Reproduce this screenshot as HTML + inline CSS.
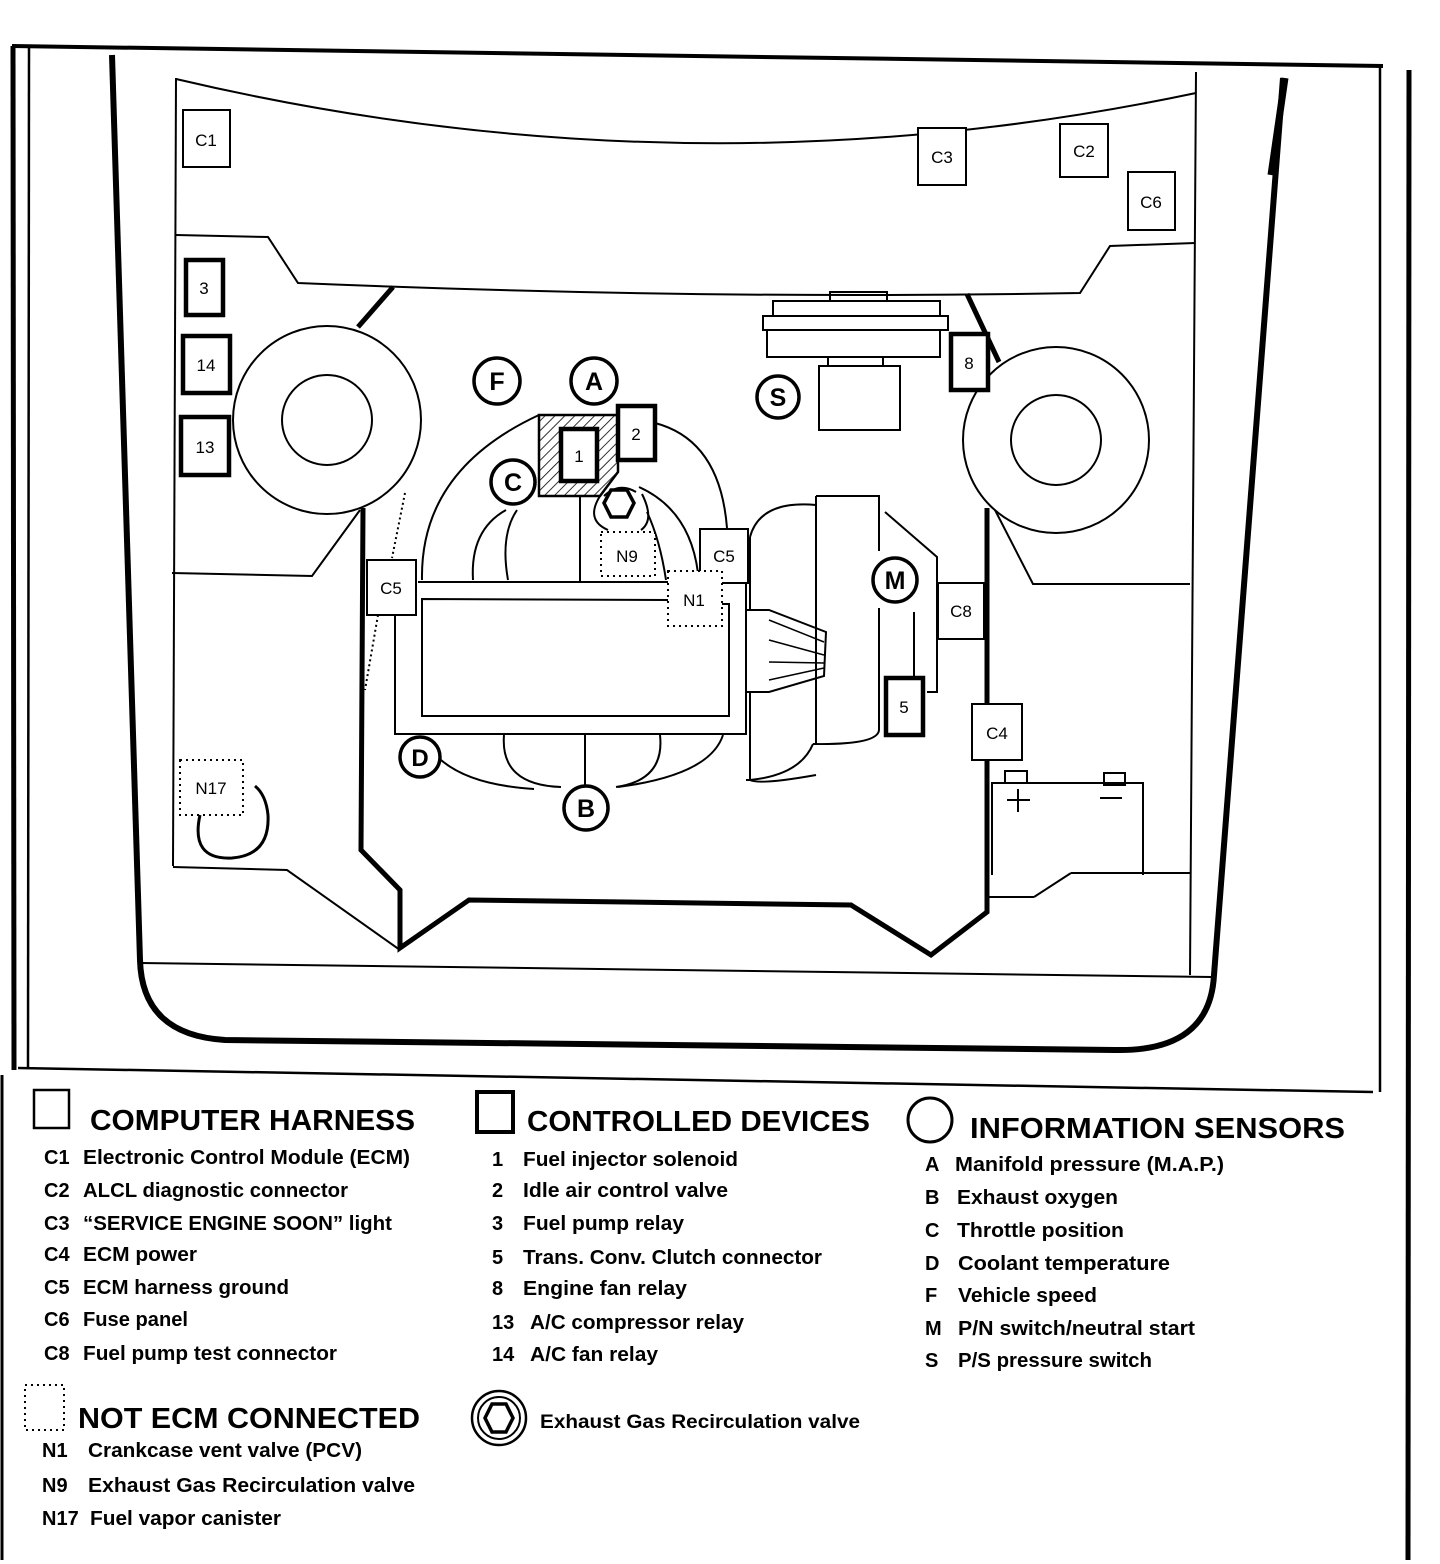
<!DOCTYPE html>
<html><head><meta charset="utf-8"><style>
html,body{margin:0;padding:0;background:#fff}
svg{display:block}
text{font-family:"Liberation Sans",sans-serif;fill:#000}
.l{font-size:20px;font-weight:bold}
.h{font-size:29px;font-weight:bold}
.s{font-size:17px}
</style></head><body>
<svg width="1440" height="1564" viewBox="0 0 1440 1564" xmlns="http://www.w3.org/2000/svg" fill="none" stroke="#000" stroke-width="2">
<!-- frame -->
<path d="M12 46 L1383 66" stroke-width="4"/>
<line x1="13" y1="46" x2="14" y2="1070" stroke-width="5"/>
<line x1="29" y1="48" x2="28" y2="1068" stroke-width="2.5"/>
<path d="M18 1068 L1373 1092" stroke-width="2.5"/>
<line x1="1380" y1="66" x2="1380" y2="1092" stroke-width="2.5"/>
<line x1="1409" y1="70" x2="1408" y2="1560" stroke-width="5"/>
<line x1="2" y1="1075" x2="2" y2="1560" stroke-width="3"/>
<!-- car body thick outline -->
<path d="M112 55 L140 960 Q142 1035 225 1040 L1115 1050 Q1210 1052 1214 975 L1283 78" stroke-width="6"/>
<line x1="1285" y1="78" x2="1271" y2="175" stroke-width="7"/>
<!-- inner panel lines -->
<line x1="176" y1="78" x2="173" y2="866"/>
<line x1="1196" y1="72" x2="1190" y2="975"/>
<path d="M176 79 Q690 200 1196 93"/>
<path d="M176 235 L268 237 L298 283 Q700 300 1080 293 L1110 246 L1195 243"/>
<line x1="141" y1="963" x2="1212" y2="977"/>
<!-- lower left/right -->
<path d="M173 867 L287 870 L400 950"/>
<path d="M1071 873 L1190 873"/>
<!-- thick engine bay line -->
<path d="M393 287 L358 327" stroke-width="5"/>
<path d="M363 508 L361 850 L400 890 L400 948 L469 900 L851 905 L931 955 L987 912 L987 508" stroke-width="5"/>
<path d="M967 294 L999 362" stroke-width="5"/>
<line x1="987" y1="897" x2="1034" y2="897"/>
<line x1="1034" y1="897" x2="1071" y2="873"/>
<!-- left lower lines -->
<path d="M360 510 L312 576 L172 573"/>
<!-- wheels -->
<circle cx="327" cy="420" r="94"/>
<circle cx="327" cy="420" r="45"/>
<circle cx="1056" cy="440" r="93"/>
<circle cx="1056" cy="440" r="45"/>
<path d="M995 510 L1033 584 L1190 584"/>
<!-- top boxes -->
<g stroke-width="2" fill="#fff">
<rect x="183" y="110" width="47" height="57"/>
<rect x="918" y="128" width="48" height="57"/>
<rect x="1060" y="124" width="48" height="53"/>
<rect x="1128" y="172" width="47" height="58"/>
</g>
<g stroke-width="4.5" fill="#fff">
<rect x="186" y="260" width="37" height="55"/>
<rect x="183" y="336" width="47" height="57"/>
<rect x="181" y="417" width="48" height="58"/>
<rect x="951" y="334" width="37" height="56"/>
<rect x="886" y="678" width="37" height="57"/>
<rect x="618" y="406" width="37" height="54"/>
</g>
<!-- top block near S -->
<rect x="830" y="292" width="57" height="9"/>
<rect x="773" y="301" width="167" height="15"/>
<rect x="763" y="316" width="185" height="14"/>
<rect x="767" y="330" width="173" height="27"/>
<rect x="828" y="357" width="55" height="9"/>
<rect x="819" y="366" width="81" height="64"/>
<!-- hatched block -->
<defs><pattern id="hp" width="7" height="7" patternUnits="userSpaceOnUse" patternTransform="rotate(45)"><line x1="0" y1="0" x2="0" y2="7" stroke="#000" stroke-width="1.6"/></pattern></defs>
<path d="M539 415 L618 415 L618 472 L600 496 L539 496 Z" fill="url(#hp)" stroke-width="2.5"/>
<rect x="561" y="429" width="36" height="52" fill="#fff" stroke-width="4.5"/>
<!-- engine -->
<path d="M418 582 L668 582"/>
<path d="M721 583 L746 583 L746 734 L395 734 L395 614"/>
<path d="M668 600 L422 599 L422 716 L729 716 L729 604 L722 604"/>
<path d="M422 580 Q420 470 539 415"/>
<path d="M655 423 Q720 440 727 528"/>
<path d="M473 580 Q470 530 506 510"/>
<path d="M508 580 Q500 535 517 510"/>
<line x1="580" y1="496" x2="580" y2="582"/>
<path d="M647 512 Q660 540 666 580"/>
<path d="M639 487 Q690 510 698 573"/>
<path d="M600 496 Q585 520 608 530 M642 494 Q655 520 641 530"/>
<path d="M604 496 Q619 482 636 492"/>
<polygon points="611,490 627,490 634,503 627,517 611,517 604,503" stroke-width="3.5"/>
<!-- bottom arches -->
<path d="M441 760 Q470 785 534 789"/>
<path d="M504 735 Q500 785 561 787"/>
<line x1="585" y1="735" x2="585" y2="787"/>
<path d="M660 735 Q665 780 616 787"/>
<path d="M723 735 Q710 775 618 787"/>
<path d="M746 780 L750 780 Q760 785 816 775"/>
<!-- transmission -->
<path d="M750 537 Q760 500 816 505"/>
<line x1="750" y1="537" x2="750" y2="610"/>
<line x1="750" y1="692" x2="750" y2="780"/>
<path d="M746 610 L769 610 L826 632 L824 676 L769 692 L746 692"/>
<path d="M769 620 L824 642 M769 640 L824 655 M769 662 L824 663 M769 680 L824 668" stroke-width="1.5"/>
<path d="M816 496 L879 496 L879 551"/>
<line x1="816" y1="496" x2="816" y2="744"/>
<path d="M879 608 L879 730 Q878 745 813 744"/>
<path d="M750 780 Q800 775 813 744"/>
<path d="M885 512 L937 557 L937 692 L927 692"/>
<line x1="914" y1="612" x2="914" y2="678"/>
<!-- dotted lines -->
<path d="M405 493 L392 558 M378 615 L365 690" stroke-dasharray="2 3"/>
<!-- C boxes thin -->
<rect x="367" y="560" width="49" height="55" fill="#fff"/>
<rect x="700" y="529" width="48" height="54" fill="#fff"/>
<rect x="938" y="583" width="46" height="56" fill="#fff"/>
<rect x="972" y="704" width="50" height="56" fill="#fff"/>
<!-- dotted boxes -->
<g stroke-dasharray="2 4" stroke-width="2">
<rect x="601" y="532" width="54" height="44" fill="#fff"/>
<rect x="668" y="571" width="54" height="55" fill="#fff"/>
<rect x="180" y="760" width="63" height="55" fill="#fff"/>
</g>
<path d="M200 815 Q190 860 232 858 Q270 855 268 815 Q266 795 255 786" stroke-width="3"/>
<!-- battery -->
<path d="M992 875 L992 783 L1143 783 L1143 875"/>
<rect x="1005" y="771" width="22" height="12"/>
<rect x="1104" y="773" width="21" height="12"/>
<path d="M1007 800 L1030 800 M1018 789 L1018 812 M1100 798 L1122 798"/>
<!-- sensors circles -->
<g stroke-width="3.5" fill="#fff">
<circle cx="497" cy="381" r="23"/>
<circle cx="594" cy="381" r="23"/>
<circle cx="778" cy="397" r="21"/>
<circle cx="513" cy="482" r="22"/>
<circle cx="895" cy="580" r="22"/>
<circle cx="420" cy="757" r="20"/>
<circle cx="586" cy="808" r="22"/>
</g>
<g stroke="none">
<text x="497" y="390" text-anchor="middle" style="font-size:25px;font-weight:bold">F</text>
<text x="594" y="390" text-anchor="middle" style="font-size:25px;font-weight:bold">A</text>
<text x="778" y="406" text-anchor="middle" style="font-size:25px;font-weight:bold">S</text>
<text x="513" y="491" text-anchor="middle" style="font-size:25px;font-weight:bold">C</text>
<text x="895" y="589" text-anchor="middle" style="font-size:25px;font-weight:bold">M</text>
<text x="420" y="766" text-anchor="middle" style="font-size:24px;font-weight:bold">D</text>
<text x="586" y="817" text-anchor="middle" style="font-size:25px;font-weight:bold">B</text>
<text class="s" x="206" y="146" text-anchor="middle">C1</text>
<text class="s" x="942" y="163" text-anchor="middle">C3</text>
<text class="s" x="1084" y="157" text-anchor="middle">C2</text>
<text class="s" x="1151" y="208" text-anchor="middle">C6</text>
<text class="s" x="204" y="294" text-anchor="middle">3</text>
<text class="s" x="206" y="371" text-anchor="middle">14</text>
<text class="s" x="205" y="453" text-anchor="middle">13</text>
<text class="s" x="969" y="369" text-anchor="middle">8</text>
<text class="s" x="579" y="462" text-anchor="middle">1</text>
<text class="s" x="636" y="440" text-anchor="middle">2</text>
<text class="s" x="904" y="713" text-anchor="middle">5</text>
<text class="s" x="391" y="594" text-anchor="middle">C5</text>
<text class="s" x="724" y="562" text-anchor="middle">C5</text>
<text class="s" x="961" y="617" text-anchor="middle">C8</text>
<text class="s" x="997" y="739" text-anchor="middle">C4</text>
<text class="s" x="627" y="562" text-anchor="middle">N9</text>
<text class="s" x="694" y="606" text-anchor="middle">N1</text>
<text class="s" x="211" y="794" text-anchor="middle">N17</text>
</g>
<!-- legend symbols -->
<rect x="34" y="1090" width="35" height="38" stroke-width="2.5"/>
<rect x="477" y="1092" width="36" height="40" stroke-width="4"/>
<circle cx="930" cy="1120" r="22" stroke-width="3"/>
<rect x="25" y="1385" width="39" height="45" stroke-dasharray="2 4" stroke-width="2"/>
<circle cx="499" cy="1418" r="27" stroke-width="2.5"/>
<circle cx="499" cy="1418" r="21" stroke-width="2"/>
<polygon points="492,1404 506,1404 513,1418 506,1432 492,1432 485,1418" stroke-width="3.5"/>
<!-- legend text -->
<g stroke="none">
<text class="h" x="90" y="1130" textLength="325" lengthAdjust="spacingAndGlyphs">COMPUTER HARNESS</text>
<text class="l" x="44" y="1164">C1</text><text class="l" x="83" y="1164" textLength="327" lengthAdjust="spacingAndGlyphs">Electronic Control Module (ECM)</text>
<text class="l" x="44" y="1197">C2</text><text class="l" x="83" y="1197" textLength="265" lengthAdjust="spacingAndGlyphs">ALCL diagnostic connector</text>
<text class="l" x="44" y="1230">C3</text><text class="l" x="83" y="1230" textLength="309" lengthAdjust="spacingAndGlyphs">“SERVICE ENGINE SOON” light</text>
<text class="l" x="44" y="1261">C4</text><text class="l" x="83" y="1261" textLength="114" lengthAdjust="spacingAndGlyphs">ECM power</text>
<text class="l" x="44" y="1294">C5</text><text class="l" x="83" y="1294" textLength="206" lengthAdjust="spacingAndGlyphs">ECM harness ground</text>
<text class="l" x="44" y="1326">C6</text><text class="l" x="83" y="1326" textLength="105" lengthAdjust="spacingAndGlyphs">Fuse panel</text>
<text class="l" x="44" y="1360">C8</text><text class="l" x="83" y="1360" textLength="254" lengthAdjust="spacingAndGlyphs">Fuel pump test connector</text>

<text class="h" x="527" y="1131" textLength="343" lengthAdjust="spacingAndGlyphs">CONTROLLED DEVICES</text>
<text class="l" x="492" y="1166">1</text><text class="l" x="523" y="1166" textLength="215" lengthAdjust="spacingAndGlyphs">Fuel injector solenoid</text>
<text class="l" x="492" y="1197">2</text><text class="l" x="523" y="1197" textLength="205" lengthAdjust="spacingAndGlyphs">Idle air control valve</text>
<text class="l" x="492" y="1230">3</text><text class="l" x="523" y="1230" textLength="161" lengthAdjust="spacingAndGlyphs">Fuel pump relay</text>
<text class="l" x="492" y="1264">5</text><text class="l" x="523" y="1264" textLength="299" lengthAdjust="spacingAndGlyphs">Trans. Conv. Clutch connector</text>
<text class="l" x="492" y="1295">8</text><text class="l" x="523" y="1295" textLength="164" lengthAdjust="spacingAndGlyphs">Engine fan relay</text>
<text class="l" x="492" y="1329">13</text><text class="l" x="530" y="1329" textLength="214" lengthAdjust="spacingAndGlyphs">A/C compressor relay</text>
<text class="l" x="492" y="1361">14</text><text class="l" x="530" y="1361" textLength="128" lengthAdjust="spacingAndGlyphs">A/C fan relay</text>

<text class="h" x="970" y="1138" textLength="375" lengthAdjust="spacingAndGlyphs">INFORMATION SENSORS</text>
<text class="l" x="925" y="1171">A</text><text class="l" x="955" y="1171" textLength="269" lengthAdjust="spacingAndGlyphs">Manifold pressure (M.A.P.)</text>
<text class="l" x="925" y="1204">B</text><text class="l" x="957" y="1204" textLength="161" lengthAdjust="spacingAndGlyphs">Exhaust oxygen</text>
<text class="l" x="925" y="1237">C</text><text class="l" x="957" y="1237" textLength="167" lengthAdjust="spacingAndGlyphs">Throttle position</text>
<text class="l" x="925" y="1270">D</text><text class="l" x="958" y="1270" textLength="212" lengthAdjust="spacingAndGlyphs">Coolant temperature</text>
<text class="l" x="925" y="1302">F</text><text class="l" x="958" y="1302" textLength="139" lengthAdjust="spacingAndGlyphs">Vehicle speed</text>
<text class="l" x="925" y="1335">M</text><text class="l" x="958" y="1335" textLength="237" lengthAdjust="spacingAndGlyphs">P/N switch/neutral start</text>
<text class="l" x="925" y="1367">S</text><text class="l" x="958" y="1367" textLength="194" lengthAdjust="spacingAndGlyphs">P/S pressure switch</text>

<text class="h" x="78" y="1428" textLength="342" lengthAdjust="spacingAndGlyphs">NOT ECM CONNECTED</text>
<text class="l" x="42" y="1457">N1</text><text class="l" x="88" y="1457" textLength="274" lengthAdjust="spacingAndGlyphs">Crankcase vent valve (PCV)</text>
<text class="l" x="42" y="1492">N9</text><text class="l" x="88" y="1492" textLength="327" lengthAdjust="spacingAndGlyphs">Exhaust Gas Recirculation valve</text>
<text class="l" x="42" y="1525">N17</text><text class="l" x="90" y="1525" textLength="191" lengthAdjust="spacingAndGlyphs">Fuel vapor canister</text>

<text class="l" x="540" y="1428" style="font-size:19px" textLength="320" lengthAdjust="spacingAndGlyphs">Exhaust Gas Recirculation valve</text>
</g>
</svg>
</body></html>
